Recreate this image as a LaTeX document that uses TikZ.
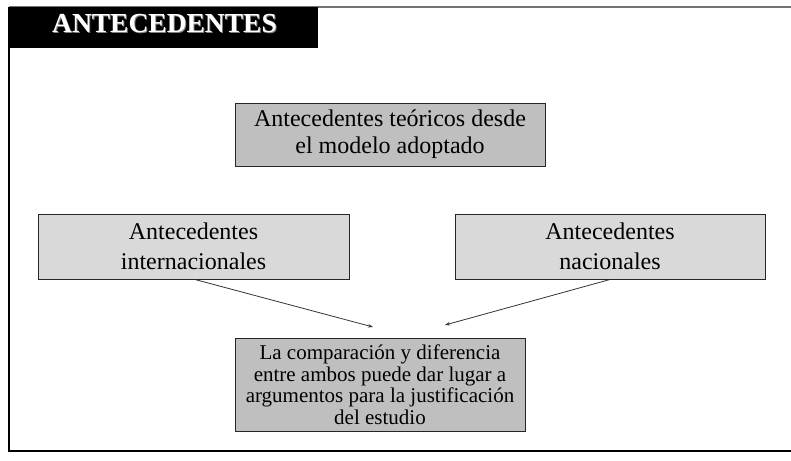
\documentclass[tikz,border=0pt]{standalone}
\usepackage{fontspec}
\setmainfont{Liberation Serif}
\usetikzlibrary{arrows.meta}
\definecolor{boxdark}{HTML}{BFBFBF}
\definecolor{boxlight}{HTML}{D9D9D9}
\begin{document}
\begin{tikzpicture}[x=1pt,y=-1pt,
  gbox/.style={draw=black!85, line width=1pt, fill=#1, inner sep=0pt, align=center},
  bigtext/.style={font=\fontsize{24}{27}\selectfont},
  sidetext/.style={font=\fontsize{24}{30}\selectfont},
  smalltext/.style={font=\fontsize{21}{21.5}\selectfont},
  conn/.style={draw=black!80, line width=0.8pt, -{Stealth[length=5pt,width=3.5pt]}}]
\useasboundingbox (0,0) rectangle (791,460);
\fill[white] (0,0) rectangle (791,460);
\begin{scope}
\clip (0,0) rectangle (791,460);
\draw[black!55, line width=2pt] (9,7) -- (830,7);
\draw[black, line width=1.5pt] (9,7) -- (9,451) -- (830,451);
\end{scope}
% title
\node[fill=black, minimum width=309pt, minimum height=41pt, inner sep=0pt, anchor=north west] (titlebox) at (9,7) {};
\node[anchor=base, text=black!50, font=\fontsize{27.5}{30}\selectfont\bfseries] (titleshadow) at (165.5,34) {ANTECEDENTES};
\node[anchor=base, text=white, font=\fontsize{27.5}{30}\selectfont\bfseries] (title) at (164.5,33) {ANTECEDENTES};
% boxes
\node[gbox=boxdark, bigtext, minimum width=310pt, minimum height=63pt] (teo) at (390,134.5)
  {Antecedentes teóricos desde\\el modelo adoptado};
\node[gbox=boxlight, sidetext, minimum width=311pt, minimum height=65pt] (inter) at (193.5,246.5)
  {Antecedentes\\internacionales};
\node[gbox=boxlight, sidetext, minimum width=310pt, minimum height=65pt] (nac) at (610,246.5)
  {Antecedentes\\nacionales};
\node[gbox=boxdark, smalltext, minimum width=290pt, minimum height=93pt] (comp) at (380,384.5)
  {La comparación y diferencia\\entre ambos puede dar lugar a\\argumentos para la justificación\\del estudio};
% arrows
\coordinate (t1) at (373,327);
\coordinate (t2) at (445,325);
\draw[conn] (inter.south) ++(1.5,0) -- (t1);
\draw[conn] (nac.south) -- (t2);
\end{tikzpicture}
\end{document}
